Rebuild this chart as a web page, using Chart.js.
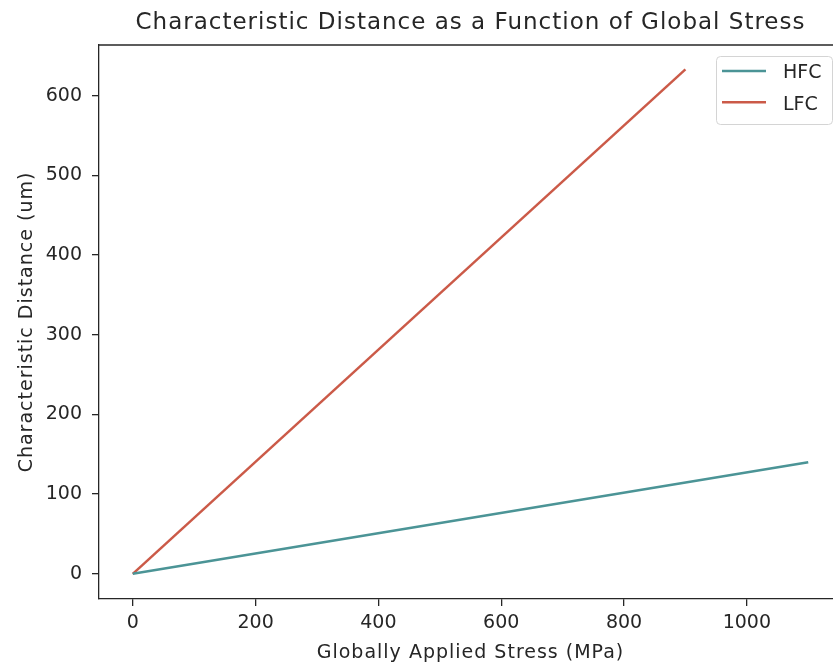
<!DOCTYPE html>
<html>
<head>
<meta charset="utf-8">
<script src="https://cdn.jsdelivr.net/npm/chart.js@4.4.0/dist/chart.umd.min.js"></script>
<style>
  html, body { margin: 0; padding: 0; overflow: hidden; background: #fff; }
  #wrap { width: 833px; height: 666px; overflow: hidden; position: relative; }
  canvas { display: block; }
</style>
</head>
<body>
<div id="wrap"><canvas id="stressChart" width="842" height="666"></canvas></div>
<script>
// Chart data
const chartTitle = 'Characteristic Distance as a Function of Global Stress';
const xLabel = 'Globally Applied Stress (MPa)';
const yLabel = 'Characteristic Distance (um)';
const seriesNames = ['HFC', 'LFC'];
const hfcStress = [0, 1100];
const hfcDistance = [0, 140];
const lfcStress = [0, 900];
const lfcDistance = [0, 633];
const xTicks = [0, 200, 400, 600, 800, 1000];
const yTicks = [0, 100, 200, 300, 400, 500, 600];

const FONT = 'DejaVu Sans';
const INK = '#262626';

function toPoints(xs, ys) {
    return xs.map((x, i) => ({ x: x, y: ys[i] }));
}

// title, axis labels and top spine (matplotlib look)
const frameAndText = {
    id: 'frameAndText',
    afterDraw(chart) {
        const ctx = chart.ctx;
        const a = chart.chartArea;
        const cx = (a.left + a.right) / 2;
        const cy = (a.top + a.bottom) / 2;
        ctx.save();
        ctx.strokeStyle = INK;
        ctx.lineWidth = 1.3;
        ctx.beginPath();
        ctx.moveTo(a.left, a.top);
        ctx.lineTo(a.right, a.top);
        ctx.stroke();

        ctx.fillStyle = INK;
        ctx.textAlign = 'center';
        ctx.textBaseline = 'alphabetic';
        ctx.letterSpacing = '1px';
        ctx.font = '23px "' + FONT + '"';
        ctx.fillText(chartTitle, cx, 29.3);
        ctx.font = '19px "' + FONT + '"';
        ctx.fillText(xLabel, cx, 658);
        ctx.translate(32, cy);
        ctx.rotate(-Math.PI / 2);
        ctx.fillText(yLabel, 0, 0);
        ctx.restore();
    }
};

// legend box in the upper right corner of the plot
const legendBox = {
    id: 'legendBox',
    afterDraw(chart) {
        const ctx = chart.ctx;
        const a = chart.chartArea;
        const w = 116, h = 68;
        const x = a.right - 10 - w;
        const y = a.top + 11;
        ctx.save();
        ctx.beginPath();
        ctx.roundRect(x + 0.5, y + 0.5, w, h, 4);
        ctx.fillStyle = 'rgba(255,255,255,0.8)';
        ctx.fill();
        ctx.strokeStyle = '#d4d4d4';
        ctx.lineWidth = 1;
        ctx.stroke();
        ctx.font = '19px "' + FONT + '"';
        ctx.textBaseline = 'alphabetic';
        chart.data.datasets.forEach((ds, i) => {
            const ly = y + 15 + i * 31.3;
            ctx.strokeStyle = ds.borderColor;
            ctx.lineWidth = ds.borderWidth;
            ctx.beginPath();
            ctx.moveTo(x + 6, ly);
            ctx.lineTo(x + 50, ly);
            ctx.stroke();
            ctx.fillStyle = INK;
            ctx.fillText(ds.label, x + 67, ly + 7.3);
        });
        ctx.restore();
    }
};

new Chart(document.getElementById('stressChart'), {
    type: 'line',
    data: {
        datasets: [{
            label: seriesNames[0],
            data: toPoints(hfcStress, hfcDistance),
            borderColor: '#4b9496',
            borderWidth: 2.5,
            pointRadius: 0,
            tension: 0
        }, {
            label: seriesNames[1],
            data: toPoints(lfcStress, lfcDistance),
            borderColor: '#cb5a48',
            borderWidth: 2.5,
            pointRadius: 0,
            tension: 0
        }]
    },
    options: {
        responsive: false,
        animation: false,
        devicePixelRatio: 1,
        layout: { padding: { left: 0, right: 0, top: 45, bottom: 0 } },
        plugins: {
            legend: { display: false },
            tooltip: { enabled: false },
            title: { display: false }
        },
        scales: {
            x: {
                type: 'linear',
                min: -55,
                max: 1155,
                afterBuildTicks: (scale) => { scale.ticks = xTicks.map(v => ({ value: v })); },
                afterFit: (scale) => { scale.height = 67; },
                grid: { drawOnChartArea: false, tickLength: 7, color: INK, lineWidth: 1.3 },
                border: { color: INK, width: 1.3 },
                ticks: {
                    color: INK,
                    padding: 6,
                    maxRotation: 0,
                    font: { family: FONT, size: 19 },
                    callback: (v) => String(v)
                }
            },
            y: {
                type: 'linear',
                min: -31.6,
                max: 663.6,
                afterBuildTicks: (scale) => { scale.ticks = yTicks.map(v => ({ value: v })); },
                afterFit: (scale) => { scale.width = 99; },
                grid: { drawOnChartArea: false, tickLength: 7, color: INK, lineWidth: 1.3 },
                border: { color: INK, width: 1.3 },
                ticks: {
                    color: INK,
                    padding: 10,
                    font: { family: FONT, size: 19 },
                    callback: (v) => String(v)
                }
            }
        }
    },
    plugins: [frameAndText, legendBox]
});
</script>
</body>
</html>
